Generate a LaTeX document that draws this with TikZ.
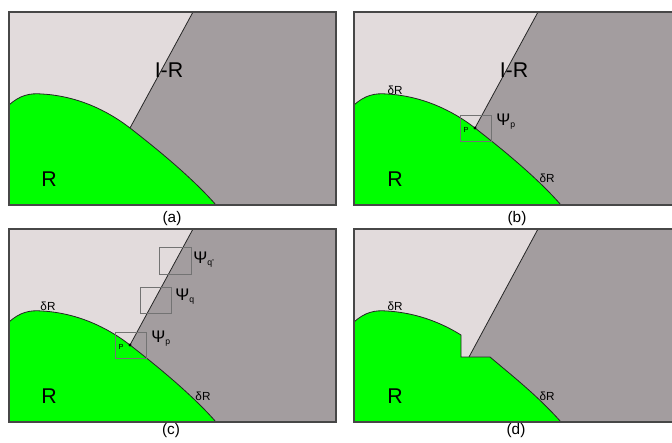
\documentclass[tikz,border=0pt]{standalone}
\usepackage{fontspec}
\setmainfont{Liberation Sans}
\definecolor{lightreg}{HTML}{E2DBDC}
\definecolor{darkreg}{HTML}{A39D9F}
\definecolor{greenreg}{HTML}{00FF00}
\newcommand{\sbs}[1]{\raisebox{-0.25ex}{\fontsize{6.5}{7}\selectfont #1}}
\newcommand{\regionsfull}{%
  \fill[lightreg] (9,12) rectangle (336,205);
  \fill[darkreg] (193,12) -- (336,12) -- (336,205) -- (216,205) .. controls (190,175) and (148,142) .. (130,128) -- cycle;
  \fill[greenreg] (9,205) -- (9,105) .. controls (20,95) and (30,93) .. (42,94) .. controls (78,96) and (108,111) .. (130,128) .. controls (148,142) and (190,175) .. (216,205) -- cycle;
  \draw[edge] (9,105) .. controls (20,95) and (30,93) .. (42,94) .. controls (78,96) and (108,111) .. (130,128) .. controls (148,142) and (190,175) .. (216,205);
  \coordinate (top) at (193,12);
  \coordinate (p) at (130,128);
  \draw[edge] (top) -- (p);
  \draw[frame] (9,12) rectangle (336,205);
}
\begin{document}
\begin{tikzpicture}[x=0.75pt,y=-0.75pt,
  edge/.style={draw=black!85,line width=0.6pt},
  frame/.style={draw=black!72,line width=0.8pt},
  psibox/.style={draw=black!55,line width=0.5pt},
  big/.style={font=\fontsize{16}{18}\selectfont,inner sep=0pt},
  small/.style={font=\fontsize{8.8}{10}\selectfont,inner sep=0pt},
  psi/.style={font=\fontsize{12.6}{14}\selectfont,inner sep=0pt,anchor=west},
  plabel/.style={font=\fontsize{5.5}{6}\selectfont,inner sep=0pt,text=black},
  captext/.style={font=\fontsize{11.5}{13}\selectfont,inner sep=0pt}]
\useasboundingbox (0,0) rectangle (672,443);
\clip (0,0) rectangle (672,443);

% ---------- panel (a)
\begin{scope}
  \regionsfull
  \node[big] (IRa) at (169,70) {I-R};
  \node[big] (Ra) at (49,179) {R};
  \node[captext] (capa) at (172,219) {(a)};
\end{scope}

% ---------- panel (b)
\begin{scope}[shift={(345,0)}]
  \regionsfull
  \draw[psibox] (115,115) rectangle (146,141);
  \fill (130,128) circle (1.6);
  \node[plabel] (Pb) at (121,130) {P};
  \node[psi] (psib) at (151,122) {Ψ\sbs{p}};
  \node[big] (IRb) at (169,70) {I-R};
  \node[big] (Rb) at (50,179) {R};
  \node[small] (dRb1) at (50,90) {δR};
  \node[small] (dRb2) at (202,178) {δR};
  \node[captext] (capb) at (172,219) {(b)};
\end{scope}

% ---------- panel (c)
\begin{scope}[shift={(0,217)}]
  \regionsfull
  \draw[psibox] (115,115) rectangle (146,141);
  \draw[psibox] (140,70) rectangle (171,96);
  \draw[psibox] (159,30) rectangle (191,57);
  \fill (130,128) circle (1.6);
  \node[plabel] (Pc) at (121,130) {P};
  \node[psi] (psic1) at (151,122) {Ψ\sbs{p}};
  \node[psi] (psic2) at (175,80) {Ψ\sbs{q}};
  \node[psi] (psic3) at (193,43) {Ψ\sbs{q'}};
  \node[big] (Rc) at (49,179) {R};
  \node[small] (dRc1) at (48,89) {δR};
  \node[small] (dRc2) at (203,179) {δR};
  \node[captext] (capc) at (171,214) {(c)};
\end{scope}

% ---------- panel (d)
\begin{scope}[shift={(345,217)}]
  \fill[lightreg] (9,12) rectangle (336,205);
  \fill[darkreg] (193,12) -- (336,12) -- (336,205) -- (216,205) .. controls (192,178) and (165,157) .. (145,140) -- (124,140) -- cycle;
  \fill[greenreg] (9,205) -- (9,105) .. controls (20,95) and (30,93) .. (42,94) .. controls (75,96) and (100,108) .. (116,118) -- (116,140) -- (145,140) .. controls (165,157) and (192,178) .. (216,205) -- cycle;
  \draw[edge] (9,105) .. controls (20,95) and (30,93) .. (42,94) .. controls (75,96) and (100,108) .. (116,118) -- (116,140) -- (145,140) .. controls (165,157) and (192,178) .. (216,205);
  \coordinate (topd) at (193,12);
  \coordinate (foot) at (124,140);
  \draw[edge] (topd) -- (foot);
  \draw[frame] (9,12) rectangle (336,205);
  \node[big] (Rd) at (50,179) {R};
  \node[small] (dRd1) at (50,89) {δR};
  \node[small] (dRd2) at (202,179) {δR};
  \node[captext] (capd) at (171,214) {(d)};
\end{scope}
\end{tikzpicture}
\end{document}
